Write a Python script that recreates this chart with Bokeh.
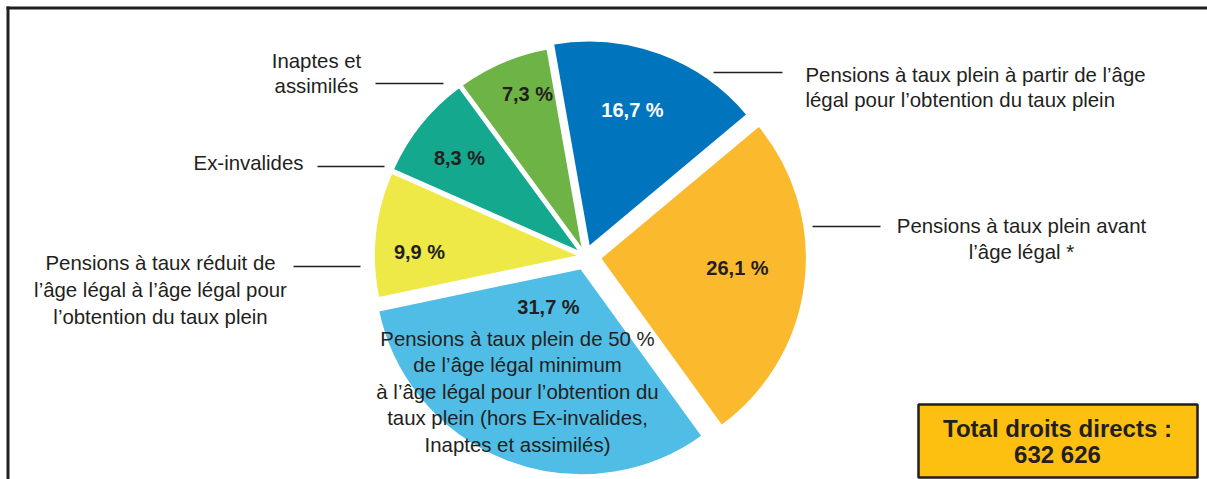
import numpy as np
from bokeh.plotting import figure
from bokeh.models import Range1d, ColumnDataSource
from bokeh.core.properties import value
from bokeh.embed import file_html
from bokeh.resources import INLINE

# ---------------- data ----------------
categories = [
    "Pensions à taux plein à partir de l’âge légal pour l’obtention du taux plein",
    "Pensions à taux plein avant l’âge légal *",
    "Pensions à taux plein de 50 % de l’âge légal minimum à l’âge légal pour l’obtention du taux plein (hors Ex-invalides, Inaptes et assimilés)",
    "Pensions à taux réduit de l’âge légal à l’âge légal pour l’obtention du taux plein",
    "Ex-invalides",
    "Inaptes et assimilés",
]
shares = [16.7, 26.1, 31.7, 9.9, 8.3, 7.3]
pct_labels = ["16,7 %", "26,1 %", "31,7 %", "9,9 %", "8,3 %", "7,3 %"]
colors = ["#0075BE", "#FBB92E", "#50BDE6", "#EEE946", "#14A88E", "#6DB346"]
pct_text_colors = ["#FFFFFF", "#231F20", "#231F20", "#231F20", "#231F20", "#231F20"]

label_lines_blue = ["Pensions à taux plein à partir de l’âge", "légal pour l’obtention du taux plein"]
label_lines_orange = ["Pensions à taux plein avant", "l’âge légal *"]
label_lines_lightblue = ["Pensions à taux plein de 50 %", "de l’âge légal minimum",
                         "à l’âge légal pour l’obtention du", "taux plein (hors Ex-invalides,",
                         "Inaptes et assimilés)"]
label_lines_yellow = ["Pensions à taux réduit de", "l’âge légal à l’âge légal pour",
                      "l’obtention du taux plein"]
label_lines_teal = ["Ex-invalides"]
label_lines_green = ["Inaptes et", "assimilés"]
total_lines = ["Total droits directs :", "632 626"]

# ---------------- layout ----------------
W, H = 1207, 479
TXT_DY = -7  # vertical correction for text baselines
def X(px):  # page x -> data x
    return px
def Y(py):  # page y -> data y
    return H - py

FONT = value("Liberation Sans")
DARK = "#231F20"

p = figure(width=W, height=H, output_backend="svg", toolbar_location=None,
           x_range=Range1d(0, W), y_range=Range1d(0, H), min_border=0)
p.axis.visible = False
p.grid.visible = False
p.outline_line_color = None
p.background_fill_color = "white"

# frame
p.line([X(7.5), X(7.5)], [Y(6), 0], line_color=DARK, line_width=3)
p.line([X(6), W], [Y(7.5), Y(7.5)], line_color=DARK, line_width=3)

# pie
cx, cy, R = X(585), Y(256), 208
start_cw = -10.0  # degrees clockwise from 12 o'clock
explode = [9, 14, 12, 4, 4, 4]
vals = np.array(shares, dtype=float)
fr = vals / vals.sum() * 360.0
ends = start_cw + np.cumsum(fr)
starts = ends - fr
mids = (starts + ends) / 2
xs, ys, sa, ea = [], [], [], []
for s, e, m, d in zip(starts, ends, mids, explode):
    r = np.radians(m)
    xs.append(cx + d * np.sin(r))
    ys.append(cy + d * np.cos(r))
    sa.append(np.radians(90 - e))
    ea.append(np.radians(90 - s))
src = ColumnDataSource(dict(x=xs, y=ys, start=sa, end=ea, color=colors, cat=categories))
p.wedge(x="x", y="y", radius=R, start_angle="start", end_angle="end",
        fill_color="color", line_color="white", line_width=3, source=src)

# percentage labels (page coords: center x, baseline y)
pct_pos = [(632, 116), (737, 274), (548, 313), (419, 258), (459, 164), (527, 100)]
p.text(x=[X(a) for a, b in pct_pos], y=[Y(b + TXT_DY) for a, b in pct_pos], text=pct_labels,
       text_color=pct_text_colors, text_font=FONT, text_font_size="20px",
       text_font_style="bold", text_align="center", text_baseline="alphabetic")

def lines(txts, x, y0, step, align, size="20.4px", style="normal"):
    p.text(x=[X(x)] * len(txts), y=[Y(y0 + TXT_DY + i * step) for i in range(len(txts))],
           text=txts, text_color=DARK, text_font=FONT, text_font_size=size,
           text_font_style=style, text_align=align, text_baseline="alphabetic")

lines(label_lines_blue, 805, 81, 25.5, "left")
lines(label_lines_orange, 1021, 232, 26, "center")
lines(label_lines_lightblue, 517, 345, 26.5, "center")
lines(label_lines_yellow, 160, 269, 27, "center")
lines(label_lines_teal, 303, 169, 26, "right")
lines(label_lines_green, 316, 67, 25, "center")

# leader lines
leaders = [((713, 782), 72), ((812, 880), 226), ((317, 384), 166),
           ((293, 360), 266), ((375, 443), 83)]
p.multi_line(xs=[[X(a), X(b)] for (a, b), yy in leaders],
             ys=[[Y(yy), Y(yy)] for (a, b), yy in leaders],
             line_color=DARK, line_width=1.3)

# total box
p.quad(left=X(918), right=X(1197), top=Y(404), bottom=Y(477),
       fill_color="#FDC010", line_color=DARK, line_width=2.5)
lines(total_lines, 1057, 435, 26, "center", size="24px", style="bold")

open("out.html", "w").write(file_html(p, INLINE))
